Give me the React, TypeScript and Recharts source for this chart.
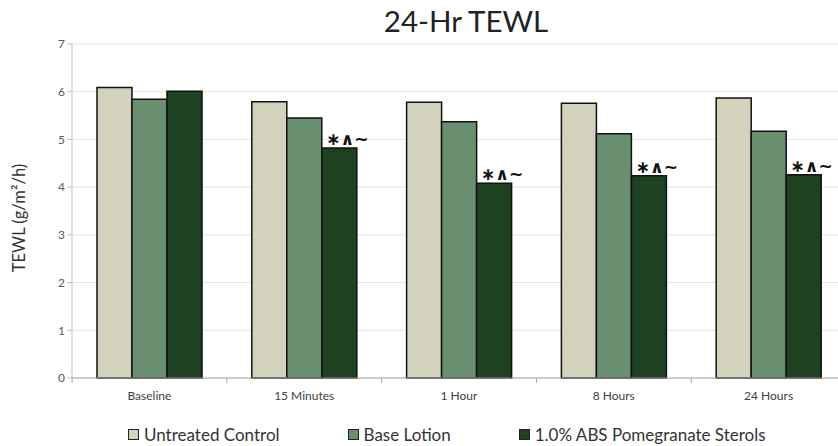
import React from "react"
import { Bar, BarChart, CartesianGrid, LabelList, Legend, XAxis, YAxis } from "recharts"

const categories = ["Baseline", "15 Minutes", "1 Hour", "8 Hours", "24 Hours"]
const untreated = [6.09, 5.79, 5.78, 5.76, 5.87]
const baseLotion = [5.84, 5.45, 5.37, 5.12, 5.17]
const absSterols = [6.01, 4.82, 4.08, 4.24, 4.26]
const marks = ["", "∗∧~", "∗∧~", "∗∧~", "∗∧~"]
const yTicks = [0, 1, 2, 3, 4, 5, 6, 7]

const SERIES = [
  { key: "untreated", name: "Untreated Control", color: "#d3d3bd" },
  { key: "base", name: "Base Lotion", color: "#6a8f70" },
  { key: "abs", name: "1.0% ABS Pomegranate Sterols", color: "#1e4121" },
]

const data = categories.map((c, i) => ({
  name: c,
  untreated: untreated[i],
  base: baseLotion[i],
  abs: absSterols[i],
  mark: marks[i],
}))

const BAND = 154.7

function XTick({ x, y, payload }: any) {
  return (
    <g>
      <line x1={x - BAND / 2} x2={x - BAND / 2} y1={y - 8} y2={y - 3} stroke="#a6a6a6" />
      <text x={x} y={y + 14} textAnchor="middle" fill="#404040" fontSize={12} fontFamily="Lato">
        {payload.value}
      </text>
    </g>
  )
}

function MarkLabel({ x, y, width, value }: any) {
  if (!value) return null
  return (
    <text x={x + width / 2 + 8} y={y - 3} textAnchor="middle" fill="#111" fontSize={17} fontWeight={600} fontFamily="DejaVu Sans">
      {value}
    </text>
  )
}

function YLabel({ viewBox }: any) {
  const cx = 19
  const cy = viewBox.y + viewBox.height / 2 + 7
  return (
    <text x={cx} y={cy} transform={`rotate(-90 ${cx} ${cy})`} textAnchor="middle" dominantBaseline="central" fill="#333" fontSize={16.5} fontFamily="Lato">
      TEWL (g/m²/h)
    </text>
  )
}

function LegendContent() {
  return (
    <div style={{ display: "flex", alignItems: "center", paddingLeft: 128, paddingTop: 16, fontFamily: "Lato", fontSize: 17, color: "#333" }}>
      {SERIES.map((s, i) => (
        <div key={s.key} style={{ display: "flex", alignItems: "center", marginRight: i < 2 ? 68 : 0 }}>
          <span style={{ width: 9, height: 9, background: s.color, border: "1px solid #222", marginRight: 5 }} />
          <span>{s.name}</span>
        </div>
      ))}
    </div>
  )
}

export default function App() {
  return (
    <div style={{ position: "fixed", left: 0, top: 0, width: 838, height: 446, overflow: "hidden", background: "#fff" }}>
      <div style={{ position: "absolute", left: 0, width: 932, top: 3, textAlign: "center", fontFamily: "Lato", fontSize: 29.5, color: "#222" }}>
        24-Hr TEWL
      </div>
      <BarChart
        width={846}
        height={446}
        data={data}
        margin={{ top: 44, right: 0, bottom: 0, left: 0 }}
        barCategoryGap={25}
        barGap={0}
      >
        <CartesianGrid vertical={false} stroke="#e4e4e4" />
        <YAxis
          domain={[0, 7]}
          ticks={yTicks}
          width={72}
          tick={{ fill: "#595959", fontSize: 12, fontFamily: "Lato" }}
          tickLine={{ stroke: "#bfbfbf" }}
          axisLine={{ stroke: "#bfbfbf" }}
          tickSize={5}
          label={<YLabel />}
        />
        <XAxis dataKey="name" height={30} tick={<XTick />} tickLine={false} axisLine={{ stroke: "#a6a6a6" }} interval={0} />
        <Legend verticalAlign="bottom" height={38} content={<LegendContent />} />
        {SERIES.map((s) => (
          <Bar key={s.key} dataKey={s.key} name={s.name} fill={s.color} stroke="#111" strokeWidth={1.5} isAnimationActive={false}>
            {s.key === "abs" && <LabelList dataKey="mark" content={<MarkLabel />} />}
          </Bar>
        ))}
      </BarChart>
    </div>
  )
}
